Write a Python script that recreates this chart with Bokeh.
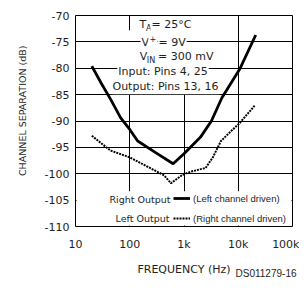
import math
from bokeh.plotting import figure
from bokeh.models import FixedTicker, Label, BoxAnnotation, Legend, LegendItem, Title
from bokeh.embed import file_html
from bokeh.resources import INLINE

# ---- data ----
right_freq = [20, 30, 45, 68, 100, 140, 300, 630, 1000, 2000, 3200, 5000, 10600, 21000]
right_db = [-79.6, -82.9, -86.0, -89.4, -91.6, -93.8, -96.0, -98.1, -96.2, -93.1, -90.0, -85.6, -80.2, -73.7]

left_freq = [20, 44, 100, 280, 430, 575, 712, 940, 1340, 2500, 3400, 4800, 7400, 10600, 20000]
left_db = [-92.8, -95.6, -96.9, -99.3, -100.3, -101.8, -101.1, -100.2, -99.6, -98.9, -96.9, -93.8, -91.9, -90.4, -87.1]

x_ticks = [10, 100, 1000, 10000, 100000]
x_tick_labels = ["10", "100", "1k", "10k", "100k"]
y_ticks = [-70, -75, -80, -85, -90, -95, -100, -105, -110]
y_tick_labels = ["-70", "-75", "-80", "-85", "-90", "-95", "-100", "-105", "-110"]

TXT = "#1e1e1e"
FONT = "DejaVu Sans"

p = figure(width=299, height=278, x_axis_type="log", x_range=(10, 100000), y_range=(-110, -70),
           output_backend="svg", toolbar_location=None,
           min_border_left=75, min_border_right=7, min_border_top=15, min_border_bottom=47)
p.background_fill_color = "white"
p.border_fill_color = "white"
p.outline_line_color = "black"
p.outline_line_width = 1

# frame geometry in picture pixels (used only to place annotations)
FX0, FW = 75, 217
FY0, FH = 15, 216


def hz(x):
    return 10 ** (1 + 4 * (x - FX0) / FW)


def db(y):
    return -70 - 40 * (y - FY0) / FH


# axes
for ax in (p.xaxis[0], p.yaxis[0]):
    ax.axis_line_color = None
    ax.major_tick_line_color = None
    ax.minor_tick_line_color = None
    ax.major_tick_out = 0
    ax.major_tick_in = 0
    ax.major_label_text_font = FONT
    ax.major_label_text_font_size = "11px"
    ax.major_label_text_color = TXT

p.xaxis.ticker = FixedTicker(ticks=x_ticks)
p.xaxis.major_label_overrides = dict(zip(x_ticks, x_tick_labels))
p.xaxis.major_label_standoff = 11
p.xaxis.axis_label = "FREQUENCY (Hz)"
p.xaxis.axis_label_text_font = FONT
p.xaxis.axis_label_text_font_size = "11px"
p.xaxis.axis_label_text_font_style = "normal"
p.xaxis.axis_label_text_color = TXT
p.xaxis.axis_label_standoff = 9

p.yaxis.ticker = FixedTicker(ticks=y_ticks)
p.yaxis.major_label_overrides = dict(zip(y_ticks, y_tick_labels))
p.yaxis.major_label_standoff = 6

for g in (p.xgrid[0], p.ygrid[0]):
    g.grid_line_color = "black"
    g.grid_line_alpha = 1
    g.grid_line_width = 1
p.ygrid[0].level = "glyph"

# white mask behind the condition text block (hides vertical grid lines)
p.add_layout(BoxAnnotation(left=hz(132), right=hz(226), top=db(15.5), bottom=db(95),
                           fill_color="white", fill_alpha=1, line_color=None, level="underlay"))
p.add_layout(BoxAnnotation(left=hz(105), right=hz(226), top=db(30), bottom=db(95),
                           fill_color="white", fill_alpha=1, line_color=None, level="underlay"))

# curves
r_solid = p.line(right_freq, right_db, line_color="black", line_width=2.8)
r_dot = p.line(left_freq, left_db, line_color="black", line_width=2, line_dash="2 1")

# legend mask
p.add_layout(BoxAnnotation(left=hz(76), right=hz(291), top=db(195), bottom=db(230),
                           fill_color="white", fill_alpha=1, line_color=None, level="annotation"))


def lab(text, x, y, size="11px", align="left", xo=0, yo=0, bg=True, font=FONT):
    l = Label(x=hz(x), y=db(y), text=text, text_font=font, text_font_size=size,
              text_align=align, text_baseline="middle", x_offset=xo, y_offset=yo,
              text_color=TXT,
              background_fill_color="white" if bg else None, padding=1)
    p.add_layout(l)
    return l


# condition block
lab("T", 138, 24.5)
lab("A", 144.5, 24.5, size="8px", yo=-4)
lab("= 25°C", 150, 24.5)
lab("V", 140, 42.5)
lab("+", 148, 42.5, size="8px", yo=4)
lab("= 9V", 157, 42.5)
lab("V", 138.3, 57)
lab("IN", 145.3, 57, size="8px", yo=-4)
lab("= 300 mV", 156.5, 57)
lab("Input: Pins 4, 25", 162.5, 72.5, align="center")
lab("Output: Pins 13, 16", 165, 88, align="center")

# legend
lab("Right Output", 171, 203, size="9.5px", align="right")
lab("Left Output", 170, 223, size="9.5px", align="right")
legend = Legend(items=[LegendItem(label="(Left channel driven)", renderers=[r_solid]),
                       LegendItem(label="(Right channel driven)", renderers=[r_dot])],
                location=(98, 2), padding=0, margin=0, spacing=8,
                glyph_width=17, glyph_height=12, label_height=12, label_standoff=3,
                label_text_font="Liberation Sans", label_text_font_size="9.5px", label_text_color=TXT,
                background_fill_color="white", background_fill_alpha=1, border_line_color=None)
p.add_layout(legend, "center")

# y-axis title and figure id
p.add_layout(Title(text="CHANNEL SEPARATION (dB)", align="right", offset=30, standoff=28,
                   text_font=FONT, text_font_size="9.5px", text_font_style="normal",
                   text_color=TXT), "left")
p.add_layout(Title(text="DS011279-16", align="right", offset=-4, standoff=-22,
                   vertical_align="top",
                   text_font="Liberation Sans", text_font_size="10px", text_font_style="normal",
                   text_color=TXT), "below")

open("out.html", "w").write(file_html(p, INLINE))
